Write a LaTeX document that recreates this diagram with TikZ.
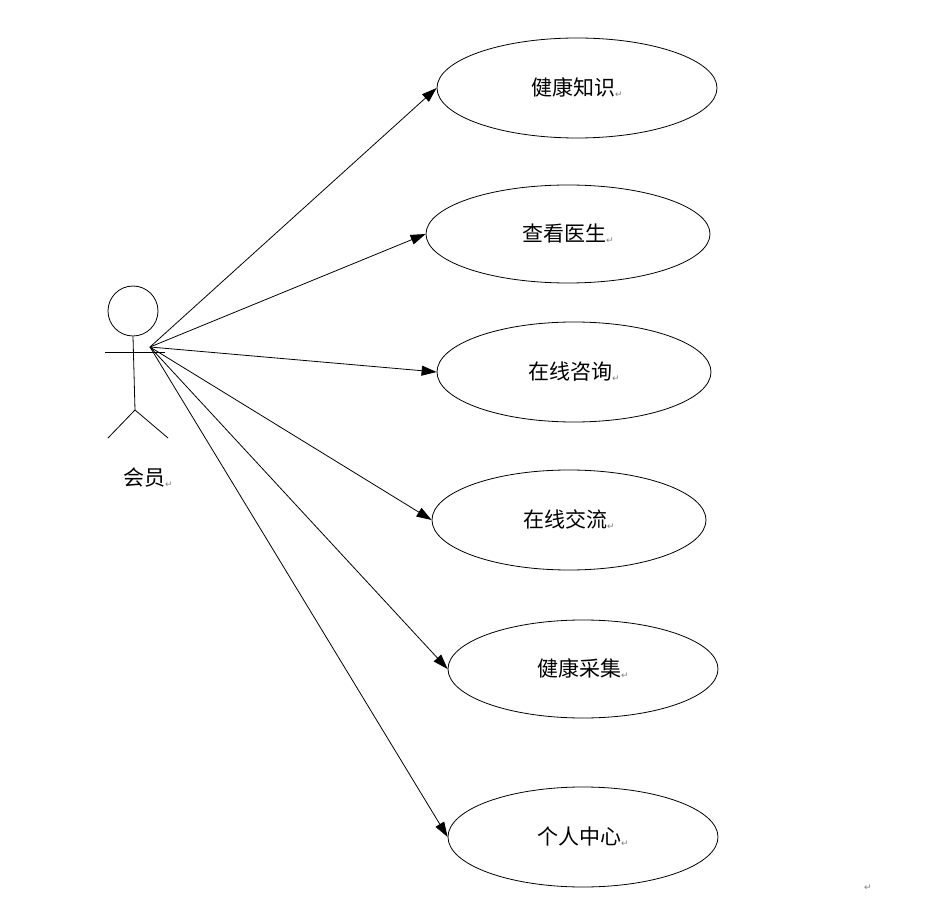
\documentclass[tikz,border=0pt]{standalone}
\usepackage{fontspec}
\newfontfamily\cjk{Noto Sans CJK SC}
\newfontfamily\djvfont{DejaVu Sans}
\usetikzlibrary{shapes.geometric,arrows.meta}
\newcommand{\retmark}{{\djvfont\fontsize{9}{9}\selectfont\color{gray}\raisebox{-2pt}{↵}}}
\begin{document}
\begin{tikzpicture}[x=1pt,y=-1pt,
  uc/.style={draw,ellipse,line width=0.8pt,inner sep=0pt,font=\cjk\fontsize{21}{21}\selectfont},
  link/.style={line width=0.8pt,-{Triangle[length=15pt,width=10pt]}}]
\useasboundingbox (0,0) rectangle (938,901);
\node[uc,minimum width=280pt,minimum height=100pt] (e1) at (577,88) {健康知识\retmark};
\node[uc,minimum width=284pt,minimum height=98pt] (e2) at (568,234) {查看医生\retmark};
\node[uc,minimum width=274pt,minimum height=100pt] (e3) at (574,372) {在线咨询\retmark};
\node[uc,minimum width=274pt,minimum height=100pt] (e4) at (569,520) {在线交流\retmark};
\node[uc,minimum width=270pt,minimum height=98pt] (e5) at (583,669) {健康采集\retmark};
\node[uc,minimum width=270pt,minimum height=100pt] (e6) at (583,837) {个人中心\retmark};
% actor
\node[draw,circle,line width=0.8pt,minimum size=50pt,inner sep=0pt] (head) at (133,311) {};
\coordinate (hip) at (135,410);
\coordinate (a) at (150,347);
\draw[line width=0.8pt] (head.south) -- (hip);
\draw[line width=0.8pt] (105,352) -- (165,352);
\draw[line width=0.8pt] (hip) -- (108,438);
\draw[line width=0.8pt] (hip) -- (168,438);
\node[font=\cjk\fontsize{21}{21}\selectfont] (lbl) at (148,478) {会员\retmark};
\foreach \e in {e1,e2,e3,e4,e5,e6} \draw[link] (a) -- (\e.west);
\node (pm) at (868,888) {\retmark};
\end{tikzpicture}
\end{document}
